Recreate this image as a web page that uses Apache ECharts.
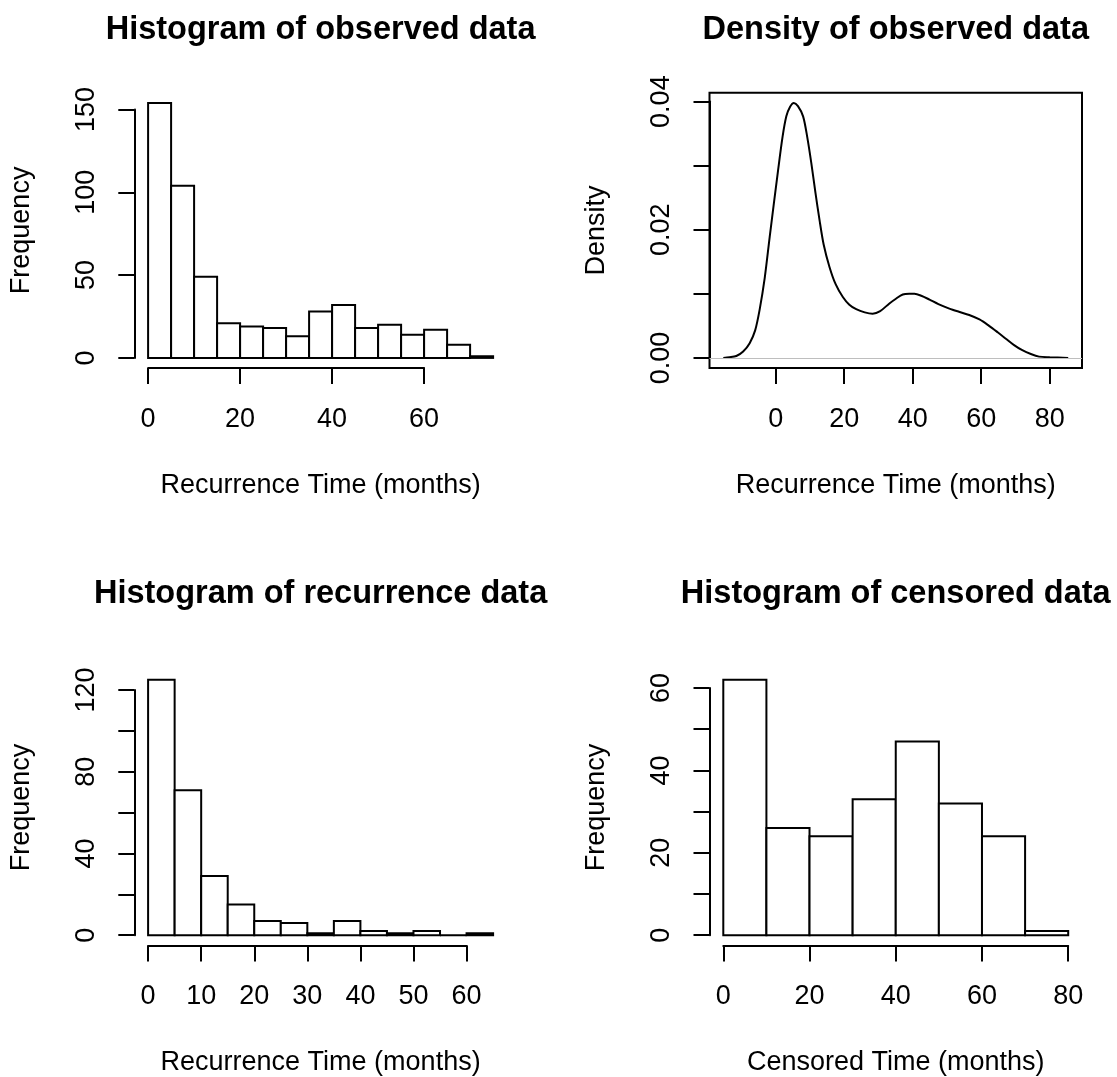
<!DOCTYPE html>
<html>
<head>
<meta charset="utf-8">
<title>Recurrence histograms</title>
<script src="https://cdn.jsdelivr.net/npm/echarts@6/dist/echarts.min.js"></script>
<style>
  html, body { margin: 0; padding: 0; background: #fff; }
  #chart { width: 1117px; height: 1077px; }
</style>
</head>
<body>
<div id="chart"></div>
<script>
    'use strict';

    // observed = recurrence + censored, counts per bin
    var obsBreaks = [0, 5, 10, 15, 20, 25, 30, 35, 40, 45, 50, 55, 60, 65, 70, 75];
    var obsCounts = [154, 104, 49, 21, 19, 18, 13, 28, 32, 18, 20, 14, 17, 8, 1];

    var recBreaks = [0, 5, 10, 15, 20, 25, 30, 35, 40, 45, 50, 55, 60, 65];
    var recCounts = [125, 71, 29, 15, 7, 6, 1, 7, 2, 1, 2, 0, 1];

    var cenBreaks = [0, 10, 20, 30, 40, 50, 60, 70, 80];
    var cenCounts = [62, 26, 24, 33, 47, 32, 24, 1];

    var densX = [-15.3, -13.5, -11.5, -9.5, -7.6, -6.0, -4.7, -3.2, -1.75, 0.7, 2.0, 3.1, 4.2, 5.3,
                 6.5, 8.0, 9.2, 10.4, 11.6, 12.8, 14.0, 15.7, 17.5, 19.6, 21.5, 23.5, 26.0, 28.3,
                 30.5, 33.2, 35.0, 37.1, 39.0, 40.5, 42.5, 44.9, 47.5, 50.7, 53.5, 56.5, 59.5,
                 62.3, 64.8, 67.2, 69.6, 72.0, 74.5, 76.9, 80.0, 85.4];
    var densY = [0.0000, 0.0001, 0.0003, 0.0010, 0.0023, 0.0043, 0.0075, 0.0125, 0.0189, 0.0293,
                 0.0345, 0.0377, 0.0392, 0.0398, 0.0393, 0.0377, 0.0345, 0.0304, 0.0258, 0.0215,
                 0.0177, 0.0142, 0.0115, 0.0095, 0.0083, 0.0076, 0.0071, 0.0069, 0.0073, 0.0085,
                 0.0092, 0.0099, 0.0100, 0.0100, 0.0097, 0.0091, 0.0084, 0.0077, 0.0072, 0.0067,
                 0.0060, 0.0050, 0.0040, 0.0030, 0.0020, 0.0012, 0.0006, 0.0002, 0.0001, 0.0000];

    var FONT = '"Liberation Sans", Arial, Helvetica, sans-serif';
    var txt = {color: '#000', fontFamily: FONT, fontSize: 27};

    var grids = [], xAxes = [], yAxes = [], series = [], graphics = [];

    function ext(lo, hi) {
        var d = (hi - lo) * 0.04;
        return [lo - d, hi + d];
    }

    function stepLabel(step, digits) {
        return function (v) {
            var k = v / step;
            return Math.abs(k - Math.round(k)) < 1e-6 ? v.toFixed(digits) : '';
        };
    }

    function hidden(g) {
        return {gridIndex: g, type: 'value', show: false};
    }

    function addPanel(box, xr, yr, xt, yt, yFmt, xName, yName, title, titleY, framed) {
        var sx = function (v) { return box.left + (v - xr[0]) / (xr[1] - xr[0]) * (box.right - box.left); };
        var sy = function (v) { return box.bottom - (v - yr[0]) / (yr[1] - yr[0]) * (box.bottom - box.top); };
        var g = grids.length;

        // plot region
        grids.push({
            left: box.left, top: box.top, width: box.right - box.left, height: box.bottom - box.top,
            show: framed, borderColor: '#000', borderWidth: 2, backgroundColor: 'transparent',
            containLabel: false, outerBoundsMode: 'none'
        });
        xAxes.push({
            gridIndex: g, type: 'value', min: xr[0], max: xr[1],
            axisLine: {show: false}, axisTick: {show: false}, axisLabel: {show: false}, splitLine: {show: false},
            name: xName, nameLocation: 'middle', nameGap: 104, nameTextStyle: txt
        });
        yAxes.push({
            gridIndex: g, type: 'value', min: yr[0], max: yr[1],
            axisLine: {show: false}, axisTick: {show: false}, axisLabel: {show: false}, splitLine: {show: false},
            name: yName, nameLocation: 'middle', nameGap: 99, nameTextStyle: txt
        });

        // x axis, drawn only over the tick range
        grids.push({
            left: sx(xt[0]), width: sx(xt[1]) - sx(xt[0]), top: box.bottom - 10, height: 10,
            containLabel: false, outerBoundsMode: 'none'
        });
        xAxes.push({
            gridIndex: g + 1, type: 'value', position: 'bottom', min: xt[0], max: xt[1], interval: xt[2],
            axisLine: {show: true, lineStyle: {color: '#000', width: 2}},
            axisTick: {show: true, inside: false, length: 16, lineStyle: {color: '#000', width: 2}},
            axisLabel: Object.assign({margin: 38, showMinLabel: true, showMaxLabel: true}, txt),
            splitLine: {show: false}
        });
        yAxes.push(hidden(g + 1));

        // y axis, drawn only over the tick range
        grids.push({
            left: box.left, width: 10, top: sy(yt[1]), height: sy(yt[0]) - sy(yt[1]),
            containLabel: false, outerBoundsMode: 'none'
        });
        xAxes.push(hidden(g + 2));
        yAxes.push({
            gridIndex: g + 2, type: 'value', position: 'left', min: yt[0], max: yt[1], interval: yt[2],
            axisLine: {show: true, lineStyle: {color: '#000', width: 2}},
            axisTick: {show: true, inside: false, length: 16, lineStyle: {color: '#000', width: 2}},
            axisLabel: Object.assign({margin: 34, rotate: 90, formatter: yFmt, showMinLabel: true, showMaxLabel: true}, txt),
            splitLine: {show: false}
        });

        graphics.push({
            type: 'text', x: (box.left + box.right) / 2, y: titleY, silent: true,
            style: {
                text: title, fill: '#000', font: 'bold 32.5px ' + FONT,
                align: 'center', verticalAlign: 'middle', textAlign: 'center', textVerticalAlign: 'middle'
            }
        });
        return g;
    }

    function histSeries(g, breaks, counts) {
        var data = counts.map(function (c, i) { return [breaks[i], breaks[i + 1], c]; });
        return {
            type: 'custom', xAxisIndex: g, yAxisIndex: g, data: data, silent: true,
            encode: {x: [0, 1], y: 2},
            renderItem: function (params, api) {
                var p0 = api.coord([api.value(0), api.value(2)]);
                var p1 = api.coord([api.value(1), 0]);
                return {
                    type: 'rect',
                    shape: {x: p0[0], y: p0[1], width: p1[0] - p0[0], height: p1[1] - p0[1]},
                    style: {fill: '#fff', stroke: '#000', lineWidth: 2}
                };
            }
        };
    }

    var maxOf = function (a) { return Math.max.apply(null, a); };
    var minOf = function (a) { return Math.min.apply(null, a); };

    var boxTL = {left: 134.3, right: 506.9, top: 92.7, bottom: 368.1};
    var boxTR = {left: 709.5, right: 1082, top: 92.7, bottom: 368.1};
    var boxBL = {left: 134.3, right: 506.9, top: 669.6, bottom: 945.4};
    var boxBR = {left: 709.5, right: 1082, top: 669.6, bottom: 945.4};

    var g1 = addPanel(boxTL, ext(obsBreaks[0], obsBreaks[obsBreaks.length - 1]), ext(0, maxOf(obsCounts)),
        [0, 60, 20], [0, 150, 50], stepLabel(50, 0),
        'Recurrence Time (months)', 'Frequency', 'Histogram of observed data', 30, false);
    series.push(histSeries(g1, obsBreaks, obsCounts));

    var g2 = addPanel(boxTR, ext(minOf(densX), maxOf(densX)), ext(minOf(densY), maxOf(densY)),
        [0, 80, 20], [0, 0.04, 0.01], stepLabel(0.02, 2),
        'Recurrence Time (months)', 'Density', 'Density of observed data', 30, true);
    series.push({
        type: 'line', xAxisIndex: g2, yAxisIndex: g2, silent: true,
        data: densX.map(function (x, i) { return [x, densY[i]]; }),
        smooth: 0.3, showSymbol: false, symbol: 'none',
        lineStyle: {color: '#000', width: 2},
        markLine: {
            silent: true, symbol: ['none', 'none'], label: {show: false},
            lineStyle: {color: '#bebebe', width: 1, type: 'solid'},
            data: [{yAxis: 0}]
        },
        z: 3
    });

    var g3 = addPanel(boxBL, ext(recBreaks[0], recBreaks[recBreaks.length - 1]), ext(0, maxOf(recCounts)),
        [0, 60, 10], [0, 120, 20], stepLabel(40, 0),
        'Recurrence Time (months)', 'Frequency', 'Histogram of recurrence data', 594, false);
    series.push(histSeries(g3, recBreaks, recCounts));

    var g4 = addPanel(boxBR, ext(cenBreaks[0], cenBreaks[cenBreaks.length - 1]), ext(0, maxOf(cenCounts)),
        [0, 80, 20], [0, 60, 10], stepLabel(20, 0),
        'Censored Time (months)', 'Frequency', 'Histogram of censored data', 594, false);
    series.push(histSeries(g4, cenBreaks, cenCounts));

    var chart = echarts.init(document.getElementById('chart'));
    chart.setOption({
        backgroundColor: '#fff',
        animation: false,
        grid: grids,
        xAxis: xAxes,
        yAxis: yAxes,
        series: series,
        graphic: graphics
    });
</script>
</body>
</html>
